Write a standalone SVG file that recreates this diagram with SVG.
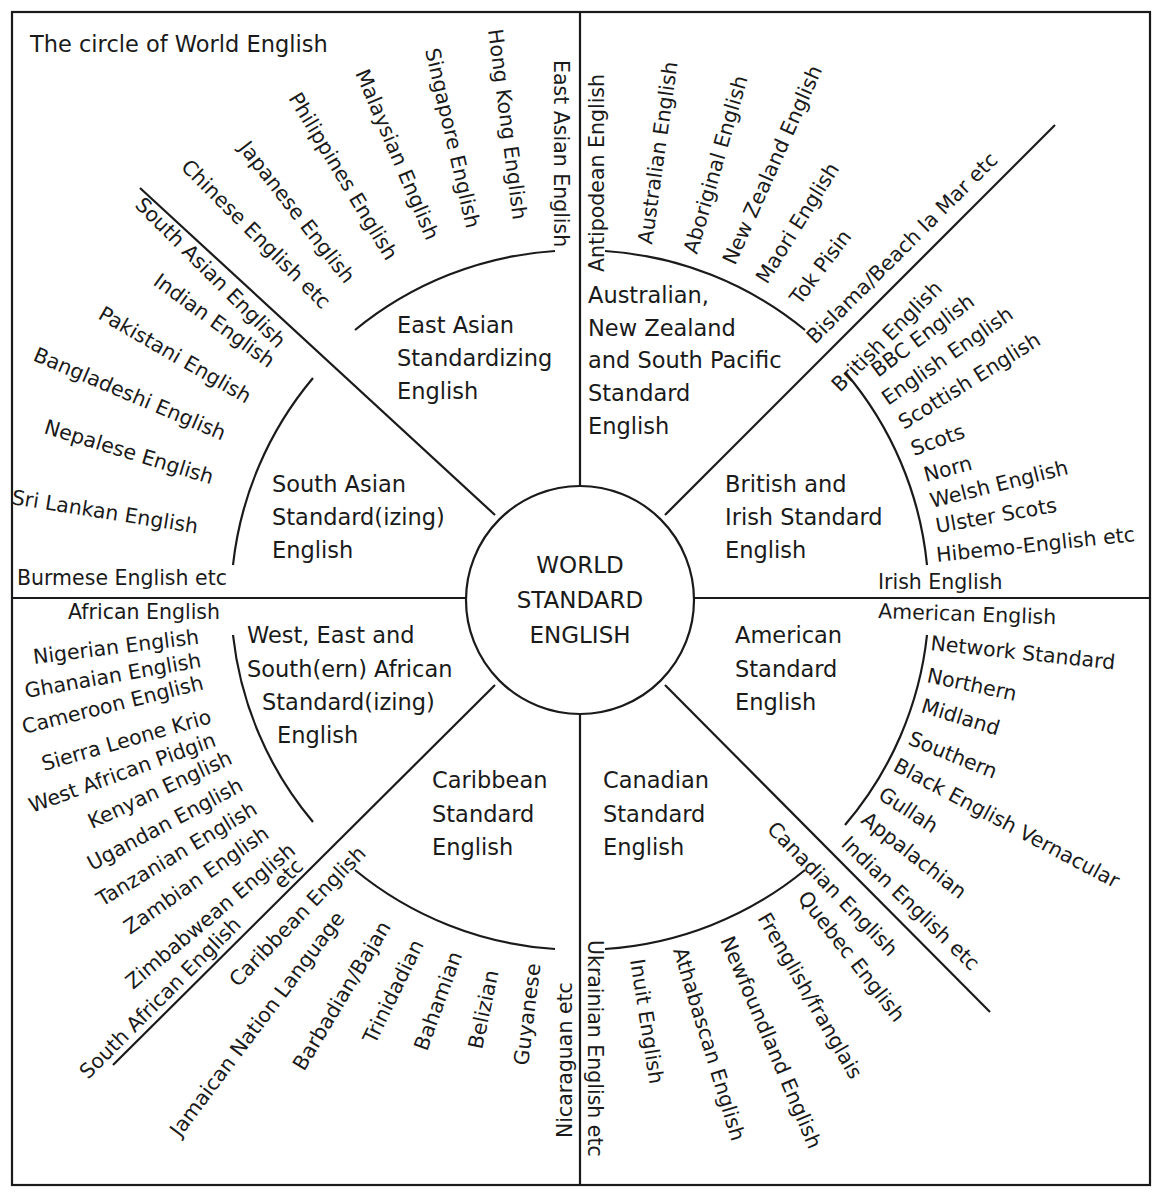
<svg xmlns="http://www.w3.org/2000/svg" width="1164" height="1200" viewBox="0 0 1164 1200">
<style>
text{font-family:"DejaVu Sans","Liberation Sans",Arial,sans-serif;fill:#1a1a1a}
.l{font-size:20.5px}
.t{font-size:22.5px}
.c{font-size:23px;text-anchor:middle}
.ln{stroke:#1a1a1a;stroke-width:2.2;fill:none}
</style>
<rect width="1164" height="1200" fill="#fff"/>
<g id="connectors" class="ln">
<rect x="12" y="12" width="1138" height="1173"/>
<line x1="580" y1="12" x2="580" y2="486"/>
<line x1="580" y1="715" x2="580" y2="1185"/>
<line x1="12" y1="598" x2="466" y2="598"/>
<line x1="694" y1="598" x2="1150" y2="598"/>
<line x1="495" y1="515" x2="140" y2="188"/>
<line x1="665" y1="515" x2="1055" y2="125"/>
<line x1="665" y1="685" x2="990" y2="1012"/>
<line x1="495" y1="685" x2="113" y2="1065"/>
<path d="M355,330 A350,350 0 0 1 555,251"/>
<path d="M605,251 A350,350 0 0 1 805,330"/>
<path d="M845,372 A350,350 0 0 1 927,565"/>
<path d="M927,635 A350,350 0 0 1 845,825"/>
<path d="M805,870 A350,350 0 0 1 605,949"/>
<path d="M555,949 A350,350 0 0 1 355,870"/>
<path d="M313,822 A350,350 0 0 1 233,635"/>
<path d="M233,565 A350,350 0 0 1 313,378"/>
</g>
<g id="center">
<circle cx="580" cy="600" r="114" class="ln"/>
<text class="c" x="580" y="573">WORLD</text>
<text class="c" x="580" y="608">STANDARD</text>
<text class="c" x="580" y="643">ENGLISH</text>
</g>
<text x="30" y="52" class="t">The circle of World English</text>
<g id="eastasian">
<text class="t" x="397" y="333">East Asian</text>
<text class="t" x="397" y="366">Standardizing</text>
<text class="t" x="397" y="399">English</text>
<text class="l" transform="translate(554,60) rotate(90)">East Asian English</text>
<text class="l" transform="translate(488,30) rotate(82.5)">Hong Kong English</text>
<text class="l" transform="translate(425,50) rotate(77)">Singapore English</text>
<text class="l" transform="translate(355,73) rotate(67)">Malaysian English</text>
<text class="l" transform="translate(288,98) rotate(59)">Philippines English</text>
<text class="l" transform="translate(238,148) rotate(52)">Japanese English</text>
<text class="l" transform="translate(180,168) rotate(45)">Chinese English  etc</text>
</g>
<g id="southasian">
<text class="t" x="272" y="492">South Asian</text>
<text class="t" x="272" y="525">Standard(izing)</text>
<text class="t" x="272" y="558">English</text>
<text class="l" transform="translate(134,206) rotate(45)">South Asian English</text>
<text class="l" transform="translate(152,284) rotate(36)">Indian English</text>
<text class="l" transform="translate(97,318) rotate(30)">Pakistani English</text>
<text class="l" transform="translate(32,360) rotate(23)">Bangladeshi English</text>
<text class="l" transform="translate(43,433) rotate(17)">Nepalese English</text>
<text class="l" transform="translate(11,504) rotate(9)">Sri Lankan English</text>
<text class="l" x="17" y="585">Burmese English  etc</text>
</g>
<g id="african">
<text class="t" x="247" y="643">West, East and</text>
<text class="t" x="247" y="677">South(ern) African</text>
<text class="t" x="262" y="710">Standard(izing)</text>
<text class="t" x="277" y="743">English</text>
<text class="l" x="68" y="619">African English</text>
<text class="l" transform="translate(34,664) rotate(-7)">Nigerian English</text>
<text class="l" transform="translate(26,698) rotate(-10)">Ghanaian English</text>
<text class="l" transform="translate(24,734) rotate(-14)">Cameroon English</text>
<text class="l" transform="translate(44,771) rotate(-16)">Sierra Leone Krio</text>
<text class="l" transform="translate(32,813) rotate(-20)">West African Pidgin</text>
<text class="l" transform="translate(92,829) rotate(-25)">Kenyan English</text>
<text class="l" transform="translate(92,871) rotate(-28)">Ugandan English</text>
<text class="l" transform="translate(102,907) rotate(-31)">Tanzanian English</text>
<text class="l" transform="translate(130,935) rotate(-35)">Zambian English</text>
<text class="l" transform="translate(133,990) rotate(-40)">Zimbabwean English</text>
<text class="l" transform="translate(282,890) rotate(-45)">etc</text>
<text class="l" transform="translate(88,1080) rotate(-45)">South African English</text>
</g>
<g id="caribbean">
<text class="t" x="432" y="788">Caribbean</text>
<text class="t" x="432" y="822">Standard</text>
<text class="t" x="432" y="855">English</text>
<text class="l" transform="translate(238,988) rotate(-46)">Caribbean English</text>
<text class="l" transform="translate(180,1138) rotate(-53)">Jamaican Nation Language</text>
<text class="l" transform="translate(304,1072) rotate(-59)">Barbadian/Bajan</text>
<text class="l" transform="translate(375,1045) rotate(-64)">Trinidadian</text>
<text class="l" transform="translate(427,1052) rotate(-70)">Bahamian</text>
<text class="l" transform="translate(482,1050) rotate(-78)">Belizian</text>
<text class="l" transform="translate(528,1066) rotate(-83)">Guyanese</text>
<text class="l" transform="translate(572,1138) rotate(-90)">Nicaraguan  etc</text>
</g>
<g id="canadian">
<text class="t" x="603" y="788">Canadian</text>
<text class="t" x="603" y="822">Standard</text>
<text class="t" x="603" y="855">English</text>
<text class="l" transform="translate(588,940) rotate(90)">Ukrainian English etc</text>
<text class="l" transform="translate(630,960) rotate(81)">Inuit English</text>
<text class="l" transform="translate(673,950) rotate(73)">Athabascan English</text>
<text class="l" transform="translate(720,940) rotate(67)">Newfoundland English</text>
<text class="l" transform="translate(757,918) rotate(60)">Frenglish/franglais</text>
<text class="l" transform="translate(797,898) rotate(52)">Quebec English</text>
<text class="l" transform="translate(766,830) rotate(46)">Canadian English</text>
</g>
<g id="american">
<text class="t" x="735" y="643">American</text>
<text class="t" x="735" y="677">Standard</text>
<text class="t" x="735" y="710">English</text>
<text class="l" transform="translate(878,618) rotate(2)">American English</text>
<text class="l" transform="translate(930,650) rotate(6)">Network Standard</text>
<text class="l" transform="translate(926,682) rotate(12)">Northern</text>
<text class="l" transform="translate(920,712) rotate(17)">Midland</text>
<text class="l" transform="translate(907,744) rotate(22)">Southern</text>
<text class="l" transform="translate(892,770) rotate(28)">Black English Vernacular</text>
<text class="l" transform="translate(877,798) rotate(33)">Gullah</text>
<text class="l" transform="translate(860,822) rotate(38)">Appalachian</text>
<text class="l" transform="translate(840,845) rotate(44)">Indian English      etc</text>
</g>
<g id="british">
<text class="t" x="725" y="492">British and</text>
<text class="t" x="725" y="525">Irish Standard</text>
<text class="t" x="725" y="558">English</text>
<text class="l" transform="translate(840,393) rotate(-45)">British English</text>
<text class="l" transform="translate(878,378) rotate(-37)">BBC English</text>
<text class="l" transform="translate(888,406) rotate(-35)">English English</text>
<text class="l" transform="translate(904,430) rotate(-32)">Scottish English</text>
<text class="l" transform="translate(914,456) rotate(-20)">Scots</text>
<text class="l" transform="translate(926,482) rotate(-15)">Norn</text>
<text class="l" transform="translate(932,508) rotate(-14)">Welsh English</text>
<text class="l" transform="translate(937,533) rotate(-10)">Ulster Scots</text>
<text class="l" transform="translate(937,562) rotate(-6)">Hibemo-English etc</text>
<text class="l" x="878" y="589">Irish English</text>
</g>
<g id="antipodean">
<text class="t" x="588" y="303">Australian,</text>
<text class="t" x="588" y="336">New Zealand</text>
<text class="t" x="588" y="368">and South Pacific</text>
<text class="t" x="588" y="401">Standard</text>
<text class="t" x="588" y="434">English</text>
<text class="l" transform="translate(604,272) rotate(-90)">Antipodean English</text>
<text class="l" transform="translate(652,245) rotate(-82)">Australian English</text>
<text class="l" transform="translate(697,255) rotate(-74)">Aboriginal English</text>
<text class="l" transform="translate(735,266) rotate(-66)">New Zealand English</text>
<text class="l" transform="translate(767,285) rotate(-58)">Maori English</text>
<text class="l" transform="translate(800,306) rotate(-53)">Tok Pisin</text>
<text class="l" transform="translate(815,345) rotate(-45)">Bislama/Beach la Mar  etc</text>
</g>
</svg>
